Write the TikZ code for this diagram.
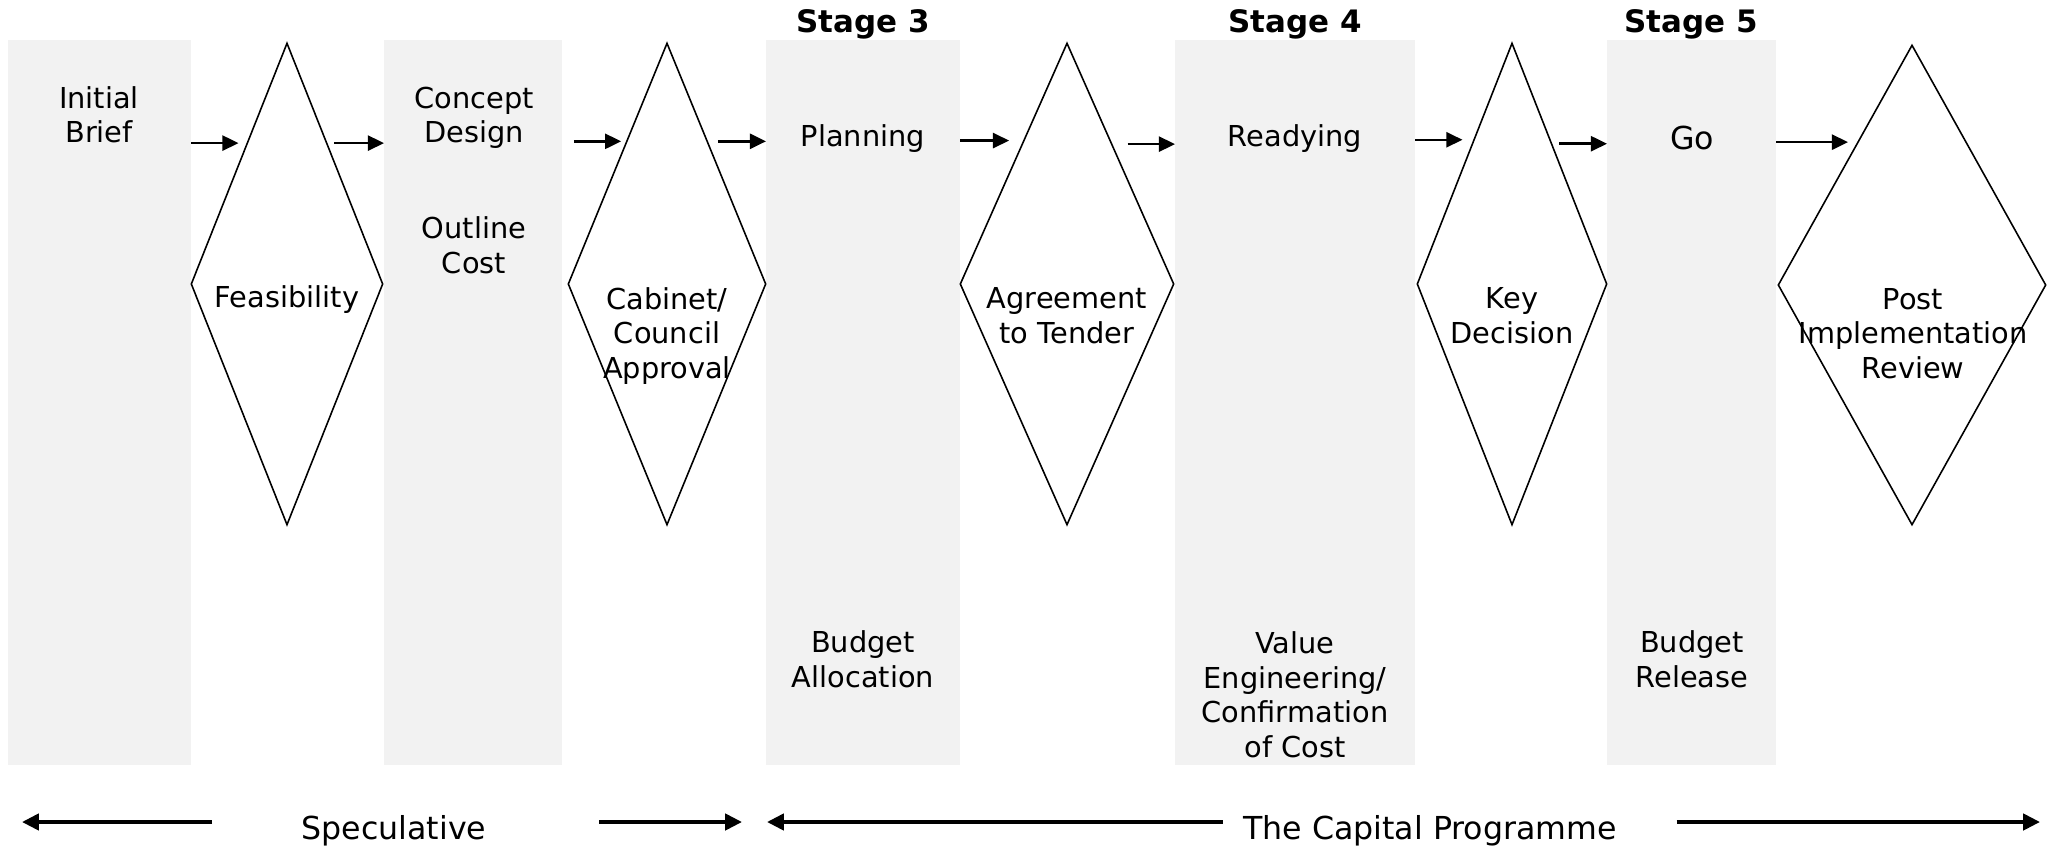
\documentclass[tikz,border=0pt]{standalone}
\usepackage{fontspec}
\setmainfont{DejaVu Sans}
\usepackage{xcolor}
\usepackage{tikz}
\usetikzlibrary{positioning,arrows.meta,shapes}

\begin{document}
\begin{tikzpicture}[
    >=Latex,
    phase/.style={rectangle, fill=gray!10, minimum height=7.25cm, inner sep=0pt, outer sep=0pt},
    gate/.style={diamond, draw, line width=0.45pt, minimum height=4.82cm, inner sep=0pt},
    lbl/.style={align=center, anchor=base, inner sep=0pt, font={\fontsize{8.2}{9.8}\selectfont}},
    stage/.style={anchor=base, inner sep=0pt, font={\fontsize{8.8}{10}\selectfont\bfseries}},
    era/.style={anchor=base, inner sep=0pt, font={\fontsize{9}{11}\selectfont}},
    arrow/.style={-{Triangle[length=4.6pt,width=4.3pt]}, line width=0.7pt},
    span/.style={-{Triangle[length=4.8pt,width=4.6pt]}, line width=1.1pt}
]
\useasboundingbox (0,0) rectangle (20.58,8.48);

\node[phase, minimum width=1.83cm] (brief) at (0.995,4.455) {};
\node[phase, minimum width=1.78cm] (concept) at (4.73,4.455) {};
\node[phase, minimum width=1.94cm] (plan) at (8.63,4.455) {};
\node[phase, minimum width=2.40cm] (ready) at (12.95,4.455) {};
\node[phase, minimum width=1.69cm] (go) at (16.915,4.455) {};

\node[gate, minimum width=1.92cm] (feas) at (2.87,5.64) {};
\node[gate, minimum width=1.98cm] (cab) at (6.67,5.64) {};
\node[gate, minimum width=2.14cm] (tender) at (10.67,5.64) {};
\node[gate, minimum width=1.90cm] (key) at (15.12,5.64) {};
\node[gate, minimum width=2.68cm, minimum height=4.80cm] (pir) at (19.12,5.63) {};

\node[stage] (s3) at (8.63,8.15) {Stage 3};
\node[stage] (s4) at (12.95,8.15) {Stage 4};
\node[stage] (s5) at (16.91,8.15) {Stage 5};

\node[lbl] (briefT) at (0.99,7.05) {Initial\\Brief};
\node[lbl] (conceptT) at (4.74,7.05) {Concept\\Design};
\node[lbl] (costT) at (4.74,5.75) {Outline\\Cost};
\node[lbl] (feasT) at (2.87,5.40) {Feasibility};
\node[lbl] (cabT) at (6.67,4.70) {Cabinet/\\Council\\Approval};
\node[lbl] (planT) at (8.63,7.01) {Planning};
\node[lbl] (tenderT) at (10.67,5.05) {Agreement\\to Tender};
\node[lbl] (readyT) at (12.95,7.01) {Readying};
\node[lbl] (keyT) at (15.12,5.05) {Key\\Decision};
\node[lbl, font={\fontsize{9}{11}\selectfont}] (goT) at (16.92,6.98) {Go};
\node[lbl] (pirT) at (19.13,4.70) {Post\\Implementation\\Review};
\node[lbl] (allocT) at (8.63,1.61) {Budget\\Allocation};
\node[lbl] (veT) at (12.95,0.91) {Value\\Engineering/\\Confirmation\\of Cost};
\node[lbl] (relT) at (16.92,1.61) {Budget\\Release};

\draw[arrow, shorten >=2.3pt] (brief.east |- feas.106) -- (feas.106);
\draw[arrow, shorten <=2pt] (feas.74) -- (concept.west |- feas.74);
\draw[arrow, shorten <=3.4pt, shorten >=1.4pt] (concept.east |- cab.106) -- (cab.106);
\draw[arrow, shorten <=2.8pt] (cab.74) -- (plan.west |- cab.74);
\draw[arrow, shorten >=4pt] (plan.east |- tender.107.5) -- (tender.107.5);
\draw[arrow, shorten <=4.3pt] (tender.72.5) -- (ready.west |- tender.72.5);
\draw[arrow, shorten >=3.1pt] (ready.east |- key.105.5) -- (key.105.5);
\draw[arrow, shorten <=2pt] (key.74.5) -- (go.west |- key.74.5);
\draw[arrow, shorten >=2.6pt] (go.east |- pir.111.5) -- (pir.111.5);

\node[era] (spec) at (3.94,0.09) {Speculative};
\node[era] (capital) at (14.30,0.09) {The Capital Programme};
\coordinate (specL) at (0.22,0.26);
\coordinate (specR) at (7.42,0.26);
\coordinate (capL) at (7.67,0.26);
\coordinate (capR) at (20.40,0.26);
\draw[span, shorten <=0.89cm] (spec.west |- specL) -- (specL);
\draw[span, shorten <=1.12cm] (spec.east |- specR) -- (specR);
\draw[span, shorten <=0.2cm] (capital.west |- capL) -- (capL);
\draw[span, shorten <=0.59cm] (capital.east |- capR) -- (capR);
\end{tikzpicture}
\end{document}
